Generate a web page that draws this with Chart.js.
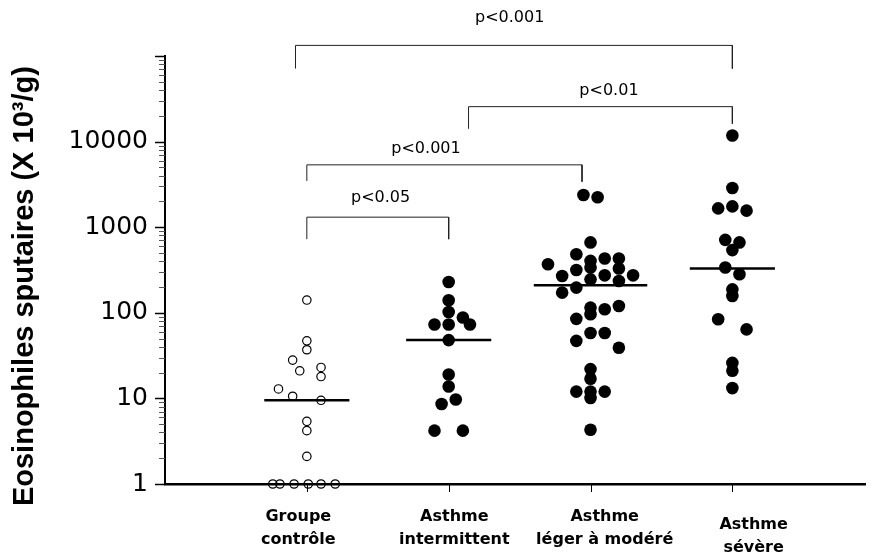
<!DOCTYPE html>
<html><head><meta charset="utf-8">
<script src="https://cdn.jsdelivr.net/npm/chart.js@4.4.1/dist/chart.umd.min.js"></script>
<style>html,body{margin:0;padding:0;background:#fff}#wrap{width:872px;height:559px;position:relative}</style>
</head><body><div id="wrap"><canvas id="c" width="872" height="559"></canvas></div>
<script>
// ---- data ----
const categories = [['Groupe','contrôle'],['Asthme','intermittent'],['Asthme','léger à modéré'],['Asthme','sévère']];
const yAxisTitle = 'Eosinophiles sputaires (X 10³/g)';
const yTickLabels = [1, 10, 100, 1000, 10000];

const controlValues = [141, 47, 37, 28, 21, 23, 18, 12.9, 10.6, 9.5, 5.4, 4.2, 2.1, 1, 1, 1, 1, 1, 1];
const intermittentValues = [229, 140, 102, 73, 73, 88, 73, 48, 19, 13.8, 8.6, 9.7, 4.2, 4.2];
const legerValues = [2380, 2235, 664, 484, 369, 404, 431, 431, 269, 316, 338, 274, 329, 274, 246, 235, 197, 172, 115, 110, 120, 96, 85, 58, 58, 47, 39, 22, 17, 12, 12, 12, 10.1, 4.3];
const severeValues = [11800, 2870, 1660, 1750, 1560, 711, 664, 540, 338, 282, 188, 157, 84, 64, 26, 21, 13.2];
const medians = [9.5, 48, 210, 329];

// column slot of each dot (beeswarm layout, in dot widths)
const controlSlots = [0, 0, 0, -1, -0.5, 1, 1, -2, -1, 1, 0, 0, 0, -2.4, -1.9, -0.9, 0.1, 1.0, 2.0];
const intermittentSlots = [0, 0, 0, -1, 0, 1, 1.5, 0, 0, 0, -0.5, 0.5, -1, 1];
const legerSlots = [-0.5, 0.5, 0, -1, -3, 0, 1, 2, -2, -1, 0, 1, 2, 3, 0, 2, -1, -2, 0, 1, 2, 0, -1, 0, 1, -1, 2, 0, 0, -1, 0, 1, 0, 0];
const severeSlots = [0, 0, -1, 0, 1, -0.5, 0.5, 0, -0.5, 0.5, 0, 0, -1, 1, 0, 0, 0];

// significance brackets
const bracketLabels = ['p<0.001', 'p<0.01', 'p<0.001', 'p<0.05'];
const bracketFrom = [0.92, 2.14, 1.0, 1.0];
const bracketTo = [4.0, 4.0, 2.94, 2.0];
const bracketTop = [133000, 25600, 5350, 1310];
const bracketFootLeft = [71300, 14100, 3470, 725];
const bracketFootRight = [71300, 16200, 3400, 725];
const bracketLabelX = [2.43, 3.13, 1.84, 1.52];

// ---- layout / style ----
const SLOT = 0.1;
const medianHalf = [0.3, 0.3, 0.4, 0.3];
const labelShift = [-0.06, 0.04, 0.1, 0.15];
const labelDrop = [0, 0, 0, 8];
const bracketLabelGap = [23, 12, 12, 15];

const groups = [
  [controlValues, controlSlots],
  [intermittentValues, intermittentSlots],
  [legerValues, legerSlots],
  [severeValues, severeSlots]
];

const yTicks = [];
for (let d = 1; d <= 10000; d *= 10) for (let m = 1; m <= 9; m++) yTicks.push(m * d);
yTicks.push(100000);

const datasets = [];
medians.forEach((m, i) => {
  datasets.push({
    type: 'scatter', showLine: true, clip: false,
    data: [{x: i + 1 - medianHalf[i], y: m}, {x: i + 1 + medianHalf[i], y: m}],
    borderColor: '#000', borderWidth: 2.5, pointRadius: 0
  });
});
groups.forEach(([vals, slots], i) => {
  const open = i === 0;
  datasets.push({
    type: 'scatter', clip: false,
    data: vals.map((v, k) => ({x: i + 1 + slots[k] * SLOT, y: v})),
    pointRadius: open ? 4.2 : 6.3,
    pointBorderWidth: open ? 1.2 : 0,
    pointBackgroundColor: open ? 'rgba(0,0,0,0)' : '#000',
    pointBorderColor: '#000'
  });
});
bracketLabels.forEach((l, i) => {
  datasets.push({
    type: 'scatter', showLine: true, clip: false,
    data: [{x: bracketFrom[i], y: bracketFootLeft[i]}, {x: bracketFrom[i], y: bracketTop[i]},
           {x: bracketTo[i], y: bracketTop[i]}, {x: bracketTo[i], y: bracketFootRight[i]}],
    borderColor: '#222', borderWidth: 1, pointRadius: 0
  });
});

const decor = {
  id: 'decor',
  afterDatasetsDraw(chart) {
    const {ctx, chartArea: a, scales: {x, y}} = chart;
    ctx.save();
    yTicks.forEach(v => {
      const lg = Math.log10(v);
      const major = Math.abs(lg - Math.round(lg)) < 1e-9;
      const py = Math.round(y.getPixelForValue(v)) + 0.5;
      ctx.strokeStyle = major ? '#000' : '#555';
      ctx.lineWidth = major ? 1.5 : 1;
      ctx.beginPath();
      ctx.moveTo(a.left - (major ? 10 : 6), py);
      ctx.lineTo(a.left, py);
      ctx.stroke();
    });
    ctx.strokeStyle = '#000';
    ctx.lineWidth = 1;
    categories.forEach((c, i) => {
      const px = Math.round(x.getPixelForValue(i + 1)) + 0.5;
      ctx.beginPath();
      ctx.moveTo(px, a.bottom);
      ctx.lineTo(px, a.bottom + 8);
      ctx.stroke();
    });
    ctx.fillStyle = '#000';
    ctx.textAlign = 'center';
    ctx.textBaseline = 'alphabetic';
    ctx.font = 'bold 16px "DejaVu Sans"';
    categories.forEach((lines, i) => {
      const cx = x.getPixelForValue(i + 1 + labelShift[i]);
      lines.forEach((t, j) => ctx.fillText(t, cx, a.bottom + 37 + j * 23 + labelDrop[i]));
    });
    ctx.font = '16px "DejaVu Sans"';
    bracketLabels.forEach((t, i) => {
      ctx.fillText(t, x.getPixelForValue(bracketLabelX[i]), y.getPixelForValue(bracketTop[i]) - bracketLabelGap[i]);
    });
    ctx.restore();
  }
};

new Chart(document.getElementById('c'), {
  type: 'scatter',
  data: {datasets},
  options: {
    responsive: false,
    devicePixelRatio: 1,
    animation: false,
    layout: {padding: {top: 56, left: 0, right: 0, bottom: 0}},
    plugins: {legend: {display: false}, tooltip: {enabled: false}},
    scales: {
      x: {
        type: 'linear', min: 0, max: 4.94,
        grid: {display: false, drawTicks: false},
        border: {display: true, color: '#000', width: 2.5},
        ticks: {display: false},
        afterFit: s => { s.height = 75; }
      },
      y: {
        type: 'logarithmic', min: 1, max: 100000,
        grid: {display: false, drawTicks: false},
        border: {display: true, color: '#000', width: 2},
        afterBuildTicks: s => { s.ticks = yTicks.map(v => ({value: v})); },
        ticks: {
          autoSkip: false, padding: 17, color: '#000',
          font: {family: '"DejaVu Sans"', size: 25},
          callback: v => (yTickLabels.includes(v) ? String(v) : '')
        },
        title: {
          display: true, text: yAxisTitle + '    ', color: '#000',
          font: {family: '"Liberation Sans"', size: 29, weight: 'bold'},
          padding: {top: 8, bottom: 0}
        },
        afterFit: s => { s.width = 165; }
      }
    }
  },
  plugins: [decor]
});
</script>
</body></html>
